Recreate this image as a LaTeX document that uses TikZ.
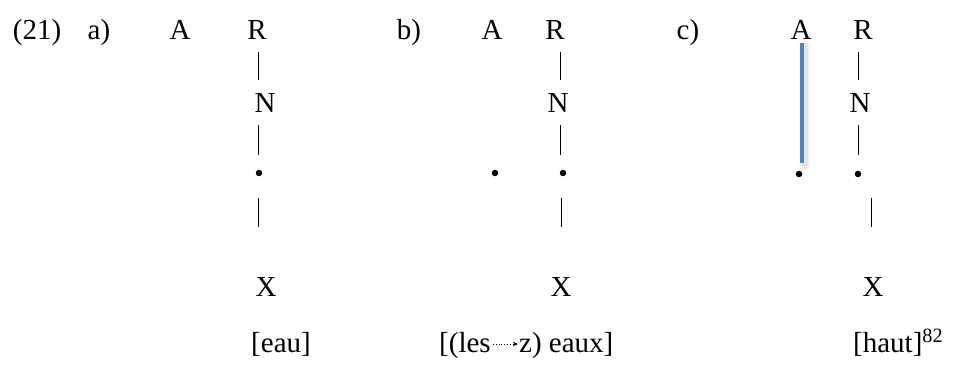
\documentclass[tikz,border=0pt]{standalone}
\usepackage{fontspec}
\setmainfont{Liberation Serif}
\usetikzlibrary{arrows.meta}
\definecolor{hlblue}{RGB}{79,129,189}
\tikzset{
  lab/.style={anchor=base, inner sep=0pt, font=\fontsize{29}{34}\selectfont},
  labw/.style={lab, anchor=base west},
  bar/.style={line width=0.9pt},
  pt/.style={circle, fill=black, inner sep=0pt, minimum size=6.5pt},
}
\begin{document}
\begin{tikzpicture}[x=1pt,y=-1pt]
\useasboundingbox (0,0) rectangle (955,374);
% labels
\node[lab] (ex) at (37,40) {(21)};
\node[lab] (la) at (99,40) {a)};
\node[lab] (lb) at (409,40) {b)};
\node[lab] (lc) at (688,40) {c)};
% ---------- a ----------
\node[lab] (aA) at (180,40) {A};
\node[lab] (aR) at (257,40) {R};
\node[lab] (aN) at (265,113) {N};
\node[pt]  (ad) at (259,173) {};
\node[lab] (aX) at (266,296) {X};
\node[lab] (aw) at (281,352) {[eau]};
\coordinate (a1t) at (258,52);  \coordinate (a1b) at (258,80);
\coordinate (a2t) at (258,125); \coordinate (a2b) at (258,155);
\coordinate (a3t) at (258,198); \coordinate (a3b) at (258,227);
\draw[bar] (a1t) -- (a1b);
\draw[bar] (a2t) -- (a2b);
\draw[bar] (a3t) -- (a3b);
% ---------- b ----------
\node[lab] (bA) at (492,40) {A};
\node[lab] (bR) at (555,40) {R};
\node[lab] (bN) at (558,113) {N};
\node[pt]  (bdl) at (495,173) {};
\node[pt]  (bdr) at (563,173) {};
\node[lab] (bX) at (561,296) {X};
\coordinate (b1t) at (560,52);  \coordinate (b1b) at (560,80);
\coordinate (b2t) at (560,125); \coordinate (b2b) at (560,155);
\coordinate (b3t) at (561,198); \coordinate (b3b) at (561,227);
\draw[bar] (b1t) -- (b1b);
\draw[bar] (b2t) -- (b2b);
\draw[bar] (b3t) -- (b3b);
\node[labw] (bw1) at (439,352) {[(les};
\node[labw] (bw2) at ([xshift=28pt]bw1.base east) {z) eaux]};
\draw[line width=0.8pt, dotted, -{Stealth[length=5pt,width=4.5pt]}]
  ([xshift=2pt,yshift=8pt]bw1.base east) -- ([xshift=-1pt,yshift=8pt]bw2.base west);
% ---------- c ----------
\node[lab] (cA) at (801,40) {A};
\node[lab] (cR) at (863,40) {R};
\node[lab] (cN) at (860,113) {N};
\node[pt]  (cdl) at (799,174) {};
\node[pt]  (cdr) at (858,174) {};
\node[lab] (cX) at (873,296) {X};
\coordinate (c1t) at (858,52);  \coordinate (c1b) at (858,80);
\coordinate (c2t) at (858,125); \coordinate (c2b) at (858,155);
\coordinate (c3t) at (871,198); \coordinate (c3b) at (871,227);
\draw[bar] (c1t) -- (c1b);
\draw[bar] (c2t) -- (c2b);
\draw[bar] (c3t) -- (c3b);
\coordinate (cbt) at (802,43); \coordinate (cbb) at (802,163);
\draw[black, opacity=0.04, line width=10pt, line cap=round] ([xshift=3pt,yshift=-3pt]cbt) -- ([xshift=3pt,yshift=-3pt]cbb);
\draw[black, opacity=0.07, line width=6pt, line cap=round] ([xshift=2.5pt,yshift=-2.5pt]cbt) -- ([xshift=2.5pt,yshift=-2.5pt]cbb);
\draw[hlblue, line width=4.5pt] (cbt) -- (cbb);
\node[labw] (cw) at (853,352) {[haut]\textsuperscript{82}};
\end{tikzpicture}
\end{document}
